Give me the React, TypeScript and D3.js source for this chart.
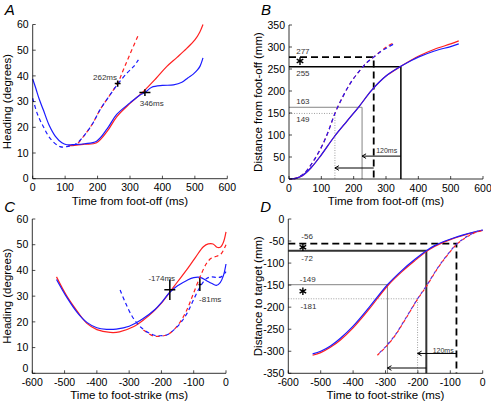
import React from 'react';
import * as d3 from 'd3';

type P = [number, number];

// ---------- tick values ----------
const ticksTimeFoot = [0, 100, 200, 300, 400, 500, 600];
const ticksTimeStrike = [-600, -500, -400, -300, -200, -100, 0];
const ticksHeading = [0, 10, 20, 30, 40, 50, 60];
const ticksDistFoot = [0, 50, 100, 150, 200, 250, 300, 350];
const ticksDistTarget = [-350, -300, -250, -200, -150, -100, -50, 0];

// ---------- Panel A: heading vs time from foot-off ----------
const aBlueSolid: P[] = [[0,38.8],[10,35],[20,31],[33,26.7],[50,21],[70,16.5],[90,14],[105,13.2],[130,13.3],[160,13.6],[197,14.6],[230,19.5],[259,25],[300,29.5],[331,32.6],[346,33.5],[367,35.6],[400,36.3],[434,36.5],[460,37.5],[478,39.2],[495,40.7],[508,42.3],[516,43.8],[525,47]];
const aRedSolid: P[] = [[110,12.9],[130,13],[160,13.4],[197,14],[230,18.5],[259,24.1],[300,29.3],[341,33.9],[380,39],[413,43.6],[445,47.2],[475,50.7],[500,54],[515,57],[525,60]];
const aBlueDashed: P[] = [[0,31.3],[15,25],[33,20.2],[55,15.5],[84,12.5],[110,12.6],[136,13.8],[160,17],[185,21.5],[207,26.7],[235,32],[261,36.6],[290,41],[310,43.5],[326,46.2]];
const aRedDashed: P[] = [[140,13.8],[160,17],[185,21.5],[207,26.7],[235,32],[262,37.2],[280,42.5],[300,48.5],[326,56]];
const aMarks = [{ x: 262, y: 37, ex: 9, ey: 1.2, label: '262ms', lx: 223, ly: 39.3 }, { x: 346, y: 33.5, ex: 17, ey: 1.3, label: '346ms', lx: 367, ly: 29.3 }];

// ---------- Panel B: distance from foot-off ----------
const bBlueSolid: P[] = [[0,0],[15,1],[40,7],[70,27],[100,55],[140,96],[180,132],[216,164],[256,202],[300,234],[346,256],[380,270],[400,277],[450,291],[500,301],[525,307]];
const bRedSolid: P[] = [[0,0],[15,1],[40,7],[70,27],[100,55],[140,96],[180,132],[216,164],[256,202],[300,234],[346,256],[380,271],[400,279],[450,295],[500,307],[525,314]];
const bBlueDashed: P[] = [[15,0],[30,4],[50,15],[75,40],[100,72],[120,105],[142,149],[165,185],[190,218],[215,243],[240,264],[262,277],[285,290],[305,299],[322,306]];
const bRedDashed: P[] = [[15,0],[30,4],[50,15],[75,40],[100,72],[120,105],[142,149],[165,185],[190,218],[215,243],[240,264],[262,277],[285,291],[305,302],[325,310]];
const bRefLines = [
  { x: 262, y: 277, kind: 'dash', label: '277', lx: 43, ly: 291 },
  { x: 346, y: 255, kind: 'solid', label: '255', lx: 43, ly: 241.5 },
  { x: 226, y: 163, kind: 'thin', label: '163', lx: 43, ly: 177 },
  { x: 142, y: 149, kind: 'dot', label: '149', lx: 43, ly: 136 },
];
const bArrows = [{ from: 346, to: 226, y: 52, label: '120ms', lx: 302, ly: 63.6 }, { from: 262, to: 142, y: 25, label: '', lx: 0, ly: 0 }];
const bStars: P[] = [[34, 268]];

// ---------- Panel C: heading vs time to foot-strike ----------
const cRedSolid: P[] = [[-525,37.5],[-493,30],[-460,24],[-431,19.4],[-400,17],[-359,15.9],[-330,16.1],[-287,18.1],[-255,20.8],[-225,24],[-200,27.3],[-174,31.6],[-150,35.6],[-122,40.2],[-95,45],[-70,49.2],[-55,50.3],[-40,50.3],[-28,49],[-18,49],[-8,51],[0,55]];
const cBlueSolid: P[] = [[-525,36.5],[-493,29.5],[-460,23.5],[-431,19.8],[-400,17.7],[-370,17.1],[-340,17.2],[-300,18.3],[-260,21],[-220,24.8],[-200,27.5],[-174,31.5],[-150,34],[-120,36.2],[-100,37.2],[-80,37.3],[-60,36],[-45,35],[-30,34.2],[-18,35.3],[-8,38],[0,42.5]];
const cBlueDashed: P[] = [[-328,32.4],[-310,27],[-287,21.4],[-260,17.5],[-225,14.9],[-205,14.6],[-184,14.9],[-165,16.5],[-142,19.4],[-120,23.5],[-101,28.5],[-80,33.7],[-60,36.9],[-45,37.5],[-29,37.3],[-15,37.5],[0,39.5]];
const cRedDashed: P[] = [[-256,16.8],[-225,14.5],[-205,14.4],[-184,14.9],[-165,16.5],[-142,19.9],[-120,25],[-101,31],[-80,37.6],[-60,42.8],[-45,44.8],[-29,45.5],[-15,46.5],[0,50]];
const cMarks = [{ x: -174, y: 32.5, ex: 17, ey: 4, label: '-174ms', lx: -199, ly: 36.9 }, { x: -81, y: 34.5, ex: 4, ey: 2.5, label: '-81ms', lx: -49, ly: 28.8 }];

// ---------- Panel D: distance to target ----------
const dBlueSolid: P[] = [[-525,-306],[-500,-300],[-470,-288],[-440,-271],[-400,-243],[-350,-200],[-294,-149],[-250,-117],[-210,-92],[-174,-72],[-150,-61],[-120,-51],[-90,-43],[-60,-36],[-30,-30],[0,-25]];
const dRedSolid: P[] = [[-525,-309],[-500,-303],[-470,-291],[-440,-275],[-400,-247],[-350,-204],[-294,-152],[-250,-120],[-210,-95],[-174,-74],[-150,-63],[-120,-52.5],[-90,-44],[-60,-37],[-30,-31],[0,-26]];
const dBlueDashed: P[] = [[-325,-308],[-300,-290],[-270,-263],[-240,-228],[-201,-181],[-174,-152],[-140,-112],[-110,-82],[-81,-57],[-60,-45],[-40,-36],[-20,-29],[0,-25]];
const dRedDashed: P[] = [[-325,-309],[-300,-291],[-270,-264],[-240,-229],[-201,-182],[-174,-153],[-140,-113],[-110,-83],[-81,-58],[-60,-46],[-40,-37],[-20,-30],[0,-26]];
const dRefLines = [
  { x: -81, y: -56, kind: 'dash', label: '-56', lx: -542, ly: -38.7 },
  { x: -174, y: -72, kind: 'solidgray', label: '-72', lx: -542, ly: -88.5 },
  { x: -294, y: -149, kind: 'thin', label: '-149', lx: -540, ly: -136 },
  { x: -201, y: -181, kind: 'dot', label: '-181', lx: -538, ly: -197.4 },
];
const dArrows = [{ from: -81, to: -201, y: -305, label: '120ms', lx: -122, ly: -298.8 }, { from: -174, to: -294, y: -338, label: '', lx: 0, ly: 0 }];
const dStars: P[] = [[-555, -64], [-555, -164]];

const FONT = '"Liberation Sans", Arial, Helvetica, sans-serif';
const RED = '#ff2020';
const BLUE = '#1a1aff';

type Frame = { x0: number; x1: number; y0: number; y1: number };

function refStyle(kind: string) {
  switch (kind) {
    case 'dash': return { stroke: '#000', strokeWidth: 1.8, strokeDasharray: '7,4' };
    case 'solid': return { stroke: '#000', strokeWidth: 1.5 };
    case 'solidgray': return { stroke: '#333', strokeWidth: 2 };
    case 'thin': return { stroke: '#777', strokeWidth: 0.9 };
    default: return { stroke: '#888', strokeWidth: 0.8, strokeDasharray: '1,1.5' };
  }
}

function starPath(cx: number, cy: number, r: number) {
  let d = '';
  for (let k = 0; k < 3; k++) {
    const a = (Math.PI / 3) * k + Math.PI / 2;
    const dx = r * Math.cos(a), dy = r * Math.sin(a);
    d += `M${cx - dx},${cy - dy}L${cx + dx},${cy + dy}`;
  }
  return d;
}

function Panel(props: {
  f: Frame; xd: [number, number]; yd: [number, number]; xt: number[]; yt: number[];
  xTitle: string; yTitle: string; letter: string; letterY: number; titleX: number;
  curves: { data: P[]; color: string; dash?: string; offset?: number }[];
  marks?: typeof aMarks; refs?: typeof bRefLines; arrows?: typeof bArrows; stars?: P[];
}) {
  const { f, xd, yd, xt, yt } = props;
  const x = d3.scaleLinear().domain(xd).range([f.x0, f.x1]);
  const y = d3.scaleLinear().domain(yd).range([f.y0, f.y1]);
  const line = d3.line<P>().x(d => x(d[0])).y(d => y(d[1])).curve(d3.curveCatmullRom.alpha(0.5));
  const cy = (f.y0 + f.y1) / 2;
  const cx = (f.x0 + f.x1) / 2;
  return (
    <g fontFamily={FONT}>
      {props.refs && props.refs.map((r, i) => {
        const st = refStyle(r.kind);
        return (
          <g key={'r' + i}>
            <path d={`M${x(xd[0])},${y(r.y)}H${x(r.x)}V${y(yd[0])}`} fill="none" {...st} />
            <text x={x(r.lx)} y={y(r.ly)} dy="0.35em" textAnchor="middle" fontSize={8} fill="#333">{r.label}</text>
          </g>
        );
      })}
      {props.arrows && props.arrows.map((a, i) => {
        const ax = x(a.to), ay = y(a.y);
        return (
          <g key={'a' + i}>
            <path d={`M${x(a.from)},${ay}H${ax}`} stroke="#000" strokeWidth={1} fill="none" />
            <path d={`M${ax + 4},${ay - 2.3}L${ax},${ay}L${ax + 4},${ay + 2.3}`} stroke="#000" strokeWidth={1} fill="none" />
            {a.label && <text x={x(a.lx)} y={y(a.ly)} dy="0.35em" textAnchor="middle" fontSize={7} fill="#333">{a.label}</text>}
          </g>
        );
      })}
      {props.stars && props.stars.map((s, i) => (
        <path key={'s' + i} d={starPath(x(s[0]), y(s[1]), 3.8)} stroke="#000" strokeWidth={1.4} fill="none" />
      ))}
      {props.curves.map((c, i) => (
        <path key={'c' + i} d={line(c.data) || ''} fill="none" stroke={c.color} strokeWidth={1.2}
          strokeDasharray={c.dash} strokeDashoffset={c.offset || 0} />
      ))}
      {props.marks && props.marks.map((m, i) => (
        <g key={'m' + i}>
          <path d={`M${x(m.x - m.ex)},${y(m.y)}H${x(m.x + m.ex)}M${x(m.x)},${y(m.y - m.ey)}V${y(m.y + m.ey)}`} stroke="#000" strokeWidth={1.5} fill="none" />
          <text x={x(m.lx)} y={y(m.ly)} dy="0.35em" textAnchor="middle" fontSize={8} fill="#333">{m.label}</text>
        </g>
      ))}
      <path d={`M${f.x0},${f.y1}V${f.y0}H${f.x1}`} stroke="#000" strokeWidth={0.8} fill="none" />
      {xt.map(t => (
        <g key={'xt' + t}>
          <line x1={x(t)} x2={x(t)} y1={f.y0} y2={f.y0 - 3} stroke="#000" strokeWidth={0.7} />
          <text x={x(t)} y={f.y0 + 12.5} textAnchor="middle" fontSize={10.5} fill="#000">{t}</text>
        </g>
      ))}
      {yt.map(t => (
        <g key={'yt' + t}>
          <line x1={f.x0} x2={f.x0 + 3} y1={y(t)} y2={y(t)} stroke="#000" strokeWidth={0.7} />
          <text x={f.x0 - 4} y={y(t)} dy={t === 0 && yd[0] === 0 && xd[0] < 0 ? '-0.1em' : '0.35em'} textAnchor="end" fontSize={10.5} fill="#000">{t}</text>
        </g>
      ))}
      <text x={cx} y={f.y0 + 26} textAnchor="middle" fontSize={11.5} fill="#000">{props.xTitle}</text>
      <text transform={`translate(${props.titleX},${cy}) rotate(-90)`} textAnchor="middle" fontSize={11.5} fill="#000">{props.yTitle}</text>
      <text x={f.x0 - 28} y={props.letterY} fontSize={15} fontStyle="italic" fill="#000">{props.letter}</text>
    </g>
  );
}

export default function App() {
  return (
    <svg width={491} height={405} style={{ position: 'fixed', left: 0, top: 0, background: '#fff' }}>
      <rect width={491} height={405} fill="#fff" />
      <Panel f={{ x0: 32.7, x1: 227.3, y0: 178.7, y1: 24.5 }} xd={[0, 600]} yd={[0, 60]} xt={ticksTimeFoot} yt={ticksHeading}
        xTitle="Time from foot-off (ms)" yTitle="Heading (degrees)" letter="A" letterY={15} titleX={11}
        curves={[
          { data: aRedSolid, color: RED }, { data: aBlueSolid, color: BLUE },
          { data: aRedDashed, color: RED, dash: '4,3' }, { data: aBlueDashed, color: BLUE, dash: '4,3' },
        ]}
        marks={aMarks} />
      <Panel f={{ x0: 289, x1: 483, y0: 179, y1: 25 }} xd={[0, 600]} yd={[0, 350]} xt={ticksTimeFoot} yt={ticksDistFoot}
        xTitle="Time from foot-off (ms)" yTitle="Distance from foot-off (mm)" letter="B" letterY={15} titleX={262}
        curves={[
          { data: bRedSolid, color: RED }, { data: bBlueSolid, color: BLUE },
          { data: bRedDashed, color: RED, dash: '4,3' }, { data: bBlueDashed, color: BLUE, dash: '4,3' },
        ]}
        refs={bRefLines} arrows={bArrows} stars={bStars} />
      <Panel f={{ x0: 32.3, x1: 226, y0: 373.3, y1: 219 }} xd={[-600, 0]} yd={[0, 60]} xt={ticksTimeStrike} yt={ticksHeading}
        xTitle="Time to foot-strike (ms)" yTitle="Heading (degrees)" letter="C" letterY={212} titleX={11}
        curves={[
          { data: cRedSolid, color: RED }, { data: cBlueSolid, color: BLUE },
          { data: cRedDashed, color: RED, dash: '4,3' }, { data: cBlueDashed, color: BLUE, dash: '4,3' },
        ]}
        marks={cMarks} />
      <Panel f={{ x0: 288.3, x1: 482.7, y0: 373.3, y1: 219 }} xd={[-600, 0]} yd={[-350, 0]} xt={ticksTimeStrike} yt={ticksDistTarget}
        xTitle="Time to foot-strike (ms)" yTitle="Distance to target (mm)" letter="D" letterY={212} titleX={262}
        curves={[
          { data: dRedSolid, color: RED }, { data: dBlueSolid, color: BLUE },
          { data: dRedDashed, color: RED, dash: '3,3' }, { data: dBlueDashed, color: '#5a2dd8', dash: '3,3', offset: 3 },
        ]}
        refs={dRefLines} arrows={dArrows} stars={dStars} />
    </svg>
  );
}
